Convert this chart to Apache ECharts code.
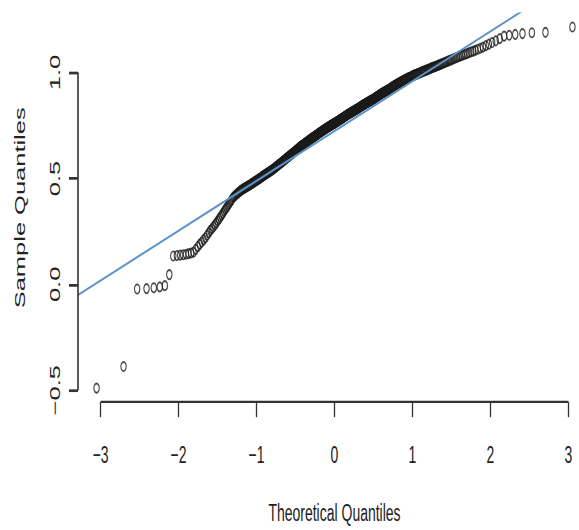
<!DOCTYPE html>
<html>
<head>
<meta charset="utf-8">
<script src="https://cdn.jsdelivr.net/npm/echarts@6/dist/echarts.min.js"></script>
<style>
  html, body { margin: 0; padding: 0; background: #fff; }
  #page { width: 579px; height: 530px; position: relative; overflow: hidden; }
  /* the plot is laid out on a squat canvas and stretched vertically, like the tall-glyph device it came from */
  #chart { position: absolute; left: 0; top: 0; width: 579px; height: 312px; transform: scaleY(1.6987); transform-origin: 0 0; }
</style>
</head>
<body>
<div id="page"><div id="chart"></div></div>
<script>
// Sorted sample (440 observations)
const sampleQuantiles = [
  -0.490, -0.388, -0.022, -0.020, -0.016, -0.012, -0.006, 0.046,
  0.134, 0.136, 0.138, 0.140, 0.142, 0.145, 0.148, 0.152,
  0.165, 0.178, 0.190, 0.200,
  0.210, 0.220, 0.232, 0.243, 0.255,
  0.263, 0.272, 0.281, 0.290, 0.300,
  0.309, 0.318, 0.327, 0.336, 0.345, 0.354,
  0.362, 0.370, 0.378, 0.386, 0.394, 0.402, 0.410,
  0.415, 0.419, 0.424, 0.428, 0.432, 0.436, 0.440, 0.443,
  0.446, 0.449, 0.452, 0.454, 0.457, 0.459, 0.461, 0.464, 0.466,
  0.468, 0.471, 0.473, 0.476, 0.478, 0.480, 0.483, 0.485, 0.488, 0.490,
  0.492, 0.494, 0.497, 0.499, 0.501, 0.503, 0.506, 0.508, 0.510, 0.513, 0.515,
  0.517, 0.519, 0.521, 0.523, 0.525, 0.527, 0.529, 0.531, 0.533, 0.535, 0.537, 0.539, 0.541,
  0.543, 0.545, 0.548, 0.550, 0.552, 0.554, 0.557, 0.559, 0.561, 0.563, 0.566, 0.568, 0.570,
  0.572, 0.574, 0.576, 0.578, 0.581, 0.583, 0.585, 0.587, 0.589, 0.591, 0.594, 0.596, 0.598, 0.600,
  0.602, 0.604, 0.606, 0.608, 0.610, 0.612, 0.614, 0.616, 0.618, 0.620, 0.622, 0.624, 0.626, 0.628, 0.630,
  0.632, 0.634, 0.636, 0.638, 0.640, 0.642, 0.644, 0.646, 0.648, 0.650, 0.652, 0.654, 0.655, 0.657, 0.658, 0.660,
  0.662, 0.663, 0.665, 0.667, 0.668, 0.670, 0.672, 0.673, 0.675, 0.677, 0.678, 0.680, 0.682, 0.683, 0.685, 0.687, 0.688,
  0.690, 0.691, 0.693, 0.694, 0.696, 0.697, 0.699, 0.700, 0.702, 0.703, 0.705, 0.706, 0.708, 0.709, 0.711, 0.712, 0.714,
  0.715, 0.717, 0.718, 0.720, 0.721, 0.723, 0.724, 0.726, 0.727, 0.729, 0.730, 0.732, 0.733, 0.734, 0.735, 0.737, 0.738,
  0.740, 0.741, 0.742, 0.744, 0.745, 0.746, 0.748, 0.749, 0.750, 0.752, 0.753, 0.754, 0.755, 0.757, 0.758, 0.759, 0.760,
  0.761, 0.763, 0.764, 0.765, 0.767, 0.768, 0.770, 0.771, 0.772, 0.774, 0.775, 0.776, 0.778, 0.779, 0.780, 0.782, 0.783, 0.784,
  0.786, 0.787, 0.789, 0.790, 0.792, 0.793, 0.795, 0.796, 0.797, 0.799, 0.800, 0.802, 0.803, 0.804, 0.806, 0.807, 0.808,
  0.809, 0.811, 0.812, 0.813, 0.815, 0.816, 0.817, 0.818, 0.820, 0.821, 0.822, 0.824, 0.825, 0.826, 0.827, 0.829, 0.830,
  0.831, 0.833, 0.834, 0.836, 0.837, 0.839, 0.840, 0.842, 0.843, 0.845, 0.846, 0.847, 0.849, 0.850, 0.851, 0.853, 0.854,
  0.856, 0.857, 0.858, 0.860, 0.861, 0.862, 0.864, 0.865, 0.866, 0.868, 0.869, 0.870, 0.871, 0.873, 0.874, 0.875,
  0.877, 0.879, 0.880, 0.882, 0.884, 0.885, 0.887, 0.889, 0.890, 0.892, 0.894, 0.895, 0.897, 0.898, 0.900,
  0.902, 0.903, 0.905, 0.906, 0.908, 0.909, 0.911, 0.912, 0.914, 0.915, 0.917, 0.918, 0.920, 0.921,
  0.923, 0.925, 0.927, 0.929, 0.931, 0.933, 0.934, 0.936, 0.938, 0.940, 0.941, 0.943, 0.945,
  0.947, 0.948, 0.950, 0.952, 0.953, 0.955, 0.957, 0.958, 0.960, 0.962, 0.963, 0.965,
  0.967, 0.968, 0.970, 0.971, 0.973, 0.975, 0.976, 0.978, 0.979, 0.981, 0.983, 0.985,
  0.986, 0.988, 0.989, 0.991, 0.992, 0.994, 0.995, 0.997, 0.998, 1.000,
  1.002, 1.003, 1.005, 1.007, 1.008, 1.010, 1.012, 1.013, 1.015,
  1.017, 1.019, 1.021, 1.023, 1.025, 1.026, 1.028, 1.030,
  1.032, 1.034, 1.036, 1.038, 1.041, 1.043, 1.045,
  1.048, 1.050, 1.053, 1.055, 1.058, 1.060,
  1.063, 1.066, 1.069, 1.072, 1.075,
  1.078, 1.081, 1.084, 1.087, 1.090,
  1.094, 1.098, 1.101, 1.105,
  1.110, 1.115, 1.120,
  1.127, 1.134,
  1.142, 1.150,
  1.160, 1.172, 1.176, 1.180, 1.184, 1.188, 1.190, 1.215
];

// Reference line: intercept and slope
const refLine = { intercept: 0.724, slope: 0.2353 };

// Axis ticks and titles
const xTicks = [-3, -2, -1, 0, 1, 2, 3];
const yTicks = [-0.5, 0, 0.5, 1];
const xTitle = 'Theoretical Quantiles';
const yTitle = 'Sample Quantiles';

// Plot window (data range widened by 4% on each side)
const xRange = [-3.29, 3.29];
const yRange = [-0.555, 1.278];

// Inverse standard normal CDF (Acklam's rational approximation)
function qnorm(p) {
  const a = [-3.969683028665376e+01, 2.209460984245205e+02, -2.759285104469687e+02,
             1.383577518672690e+02, -3.066479806614716e+01, 2.506628277459239e+00];
  const b = [-5.447609879822406e+01, 1.615858368580409e+02, -1.556989798598866e+02,
             6.680131188771972e+01, -1.328068155288572e+01];
  const c = [-7.784894002430293e-03, -3.223964580411365e-01, -2.400758277161838e+00,
             -2.549671010229297e+00, 4.374664141464968e+00, 2.938163982698783e+00];
  const d = [7.784695709041462e-03, 3.224671290700398e-01, 2.445134137142996e+00,
             3.754408661907416e+00];
  const pl = 0.02425, ph = 1 - pl;
  let q, r;
  if (p < pl) {
    q = Math.sqrt(-2 * Math.log(p));
    return (((((c[0]*q+c[1])*q+c[2])*q+c[3])*q+c[4])*q+c[5]) /
           ((((d[0]*q+d[1])*q+d[2])*q+d[3])*q+1);
  }
  if (p > ph) {
    q = Math.sqrt(-2 * Math.log(1 - p));
    return -(((((c[0]*q+c[1])*q+c[2])*q+c[3])*q+c[4])*q+c[5]) /
            ((((d[0]*q+d[1])*q+d[2])*q+d[3])*q+1);
  }
  q = p - 0.5; r = q * q;
  return (((((a[0]*r+a[1])*r+a[2])*r+a[3])*r+a[4])*r+a[5])*q /
         (((((b[0]*r+b[1])*r+b[2])*r+b[3])*r+b[4])*r+1);
}

// Normal plotting positions, (i - 0.5) / n
const n = sampleQuantiles.length;
const qqPoints = sampleQuantiles.map((y, i) => [qnorm((i + 0.5) / n), y]);

const refData = xRange.map(x => [x, refLine.intercept + refLine.slope * x]);

const minus = v => (v < 0 ? '\u2212' + Math.abs(v) : String(v));
const yFmt = v => {
  const s = Math.abs(v).toFixed(1);
  return v < 0 ? '\u2212' + s : s;
};
const fontFamily = '"Liberation Sans", Arial, Helvetica, sans-serif';
const ink = '#222';
const axisInk = '#333';

const chart = echarts.init(document.getElementById('chart'), null, { renderer: 'svg' });
chart.setOption({
  backgroundColor: '#fff',
  animation: false,
  grid: { left: 78, right: -12, top: 8.06, bottom: 75.4, outerBoundsMode: 'none' },
  xAxis: {
    type: 'value',
    min: xRange[0], max: xRange[1],
    name: xTitle,
    nameLocation: 'middle',
    nameGap: 58,
    nameMoveOverlap: false,
    nameTextStyle: { color: ink, fontSize: 14, fontFamily },
    axisLine: { show: false, onZero: false },
    splitLine: { show: false },
    axisTick: { show: true, customValues: xTicks, length: 9, lineStyle: { color: axisInk, width: 1.3 } },
    axisLabel: { customValues: xTicks, formatter: minus, margin: 24, color: ink, fontSize: 14, fontFamily, hideOverlap: false }
  },
  yAxis: {
    type: 'value',
    min: yRange[0], max: yRange[1],
    name: yTitle,
    nameLocation: 'middle',
    nameGap: 51,
    nameMoveOverlap: false,
    nameTextStyle: { color: ink, fontSize: 15, fontFamily },
    axisLine: { show: false, onZero: false },
    splitLine: { show: false },
    axisTick: { show: true, customValues: yTicks, length: 9, lineStyle: { color: axisInk, width: 1.6 } },
    axisLabel: {
      customValues: yTicks, rotate: 90, margin: 16, color: ink, fontSize: 15, fontFamily,
      formatter: yFmt, hideOverlap: false
    }
  },
  series: [
    {
      type: 'scatter',
      data: qqPoints,
      symbol: 'circle',
      symbolSize: 5.4,
      itemStyle: { color: 'rgba(0,0,0,0)', borderColor: '#1a1a1a', borderWidth: 1.1 },
      emphasis: { disabled: true },
      clip: false
    },
    {
      type: 'line',
      data: refData,
      showSymbol: false,
      clip: true,
      lineStyle: { color: '#5b93c9', width: 1.3 },
      emphasis: { disabled: true }
    },
    {
      // x axis line, running from the first to the last tick
      type: 'line',
      data: [[xTicks[0], yRange[0]], [xTicks[xTicks.length - 1], yRange[0]]],
      showSymbol: false, clip: false, silent: true,
      lineStyle: { color: axisInk, width: 1.3 }
    },
    {
      // y axis line, running from the first to the last tick
      type: 'line',
      data: [[xRange[0], yTicks[0]], [xRange[0], yTicks[yTicks.length - 1]]],
      showSymbol: false, clip: false, silent: true,
      lineStyle: { color: axisInk, width: 1.6 }
    }
  ]
});
</script>
</body>
</html>
